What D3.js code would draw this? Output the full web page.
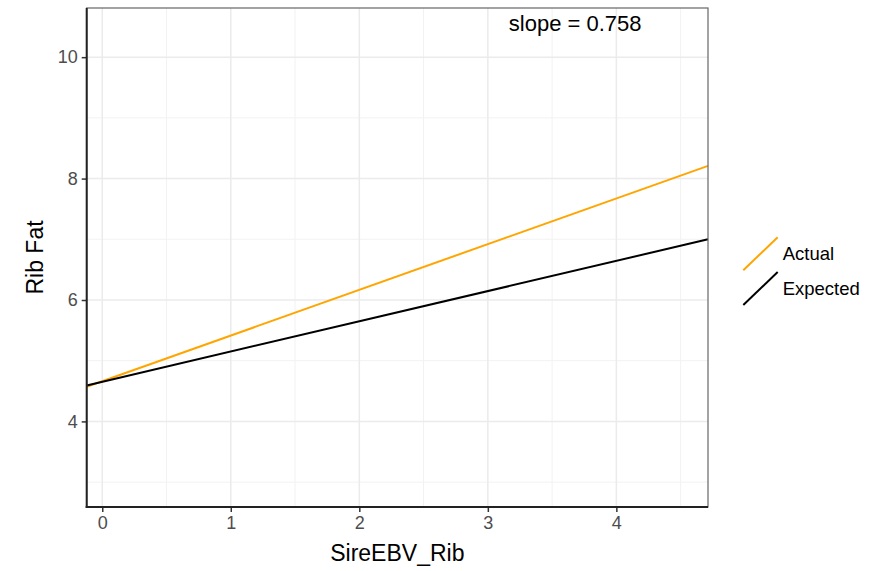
<!DOCTYPE html>
<html>
<head>
<meta charset="utf-8">
<script src="https://cdn.jsdelivr.net/npm/d3@7"></script>
<style>
  body { margin: 0; background: #fff; }
  text { font-family: "Liberation Sans", Arial, sans-serif; }
</style>
</head>
<body>
<script>
// chart data
var xDomain = [-0.121, 4.713];
var yDomain = [2.59, 10.81];
var xEnds = [-0.121, 4.713];
var actual = [4.57, 8.21];
var expected = [4.593, 7.0];
var xTicks = [0, 1, 2, 3, 4];
var xMinor = [0.5, 1.5, 2.5, 3.5, 4.5];
var yTicks = [4, 6, 8, 10];
var yMinor = [3, 5, 7, 9];
var seriesNames = ["Actual", "Expected"];
var seriesColors = ["#FFA500", "#000000"];
var slopeLabel = "slope = 0.758";

window.onload = start;

function start() {
  var width = 883;
  var height = 571;
  // panel edges in pixels
  var pLeft = 86.7, pRight = 708, pTop = 8, pBottom = 507;

  var svg = d3.select("body").append("svg")
      .attr("width", width)
      .attr("height", height);

  var x = d3.scaleLinear().domain(xDomain).range([pLeft, pRight]);
  var y = d3.scaleLinear().domain(yDomain).range([pBottom, pTop]);

  // grid lines
  svg.selectAll(".xminor").data(xMinor).enter().append("line")
      .attr("x1", function(d) { return x(d); }).attr("x2", function(d) { return x(d); })
      .attr("y1", pTop).attr("y2", pBottom)
      .attr("stroke", "#f2f2f2").attr("stroke-width", 1);
  svg.selectAll(".yminor").data(yMinor).enter().append("line")
      .attr("y1", function(d) { return y(d); }).attr("y2", function(d) { return y(d); })
      .attr("x1", pLeft).attr("x2", pRight)
      .attr("stroke", "#f2f2f2").attr("stroke-width", 1);
  svg.selectAll(".xmajor").data(xTicks).enter().append("line")
      .attr("x1", function(d) { return x(d); }).attr("x2", function(d) { return x(d); })
      .attr("y1", pTop).attr("y2", pBottom)
      .attr("stroke", "#ebebeb").attr("stroke-width", 1.5);
  svg.selectAll(".ymajor").data(yTicks).enter().append("line")
      .attr("y1", function(d) { return y(d); }).attr("y2", function(d) { return y(d); })
      .attr("x1", pLeft).attr("x2", pRight)
      .attr("stroke", "#ebebeb").attr("stroke-width", 1.5);

  // the two lines
  var line = d3.line()
      .x(function(d) { return x(d[0]); })
      .y(function(d) { return y(d[1]); });

  var series = [d3.zip(xEnds, actual), d3.zip(xEnds, expected)];
  // expected drawn last so it sits on top
  [0, 1].forEach(function(i) {
    svg.append("path")
      .datum(series[i])
      .attr("d", line)
      .attr("fill", "none")
      .attr("stroke", seriesColors[i])
      .attr("stroke-width", 2);
  });

  // panel border
  svg.append("rect")
      .attr("x", pLeft).attr("y", pTop)
      .attr("width", pRight - pLeft).attr("height", pBottom - pTop)
      .attr("fill", "none").attr("stroke", "#666").attr("stroke-width", 1.2);

  // axes
  var xAxis = svg.append("g")
      .attr("transform", "translate(0," + pBottom + ")")
      .call(d3.axisBottom(x).tickValues(xTicks).tickSize(5).tickPadding(4).tickFormat(d3.format("d")));
  var yAxis = svg.append("g")
      .attr("transform", "translate(" + pLeft + ",0)")
      .call(d3.axisLeft(y).tickValues(yTicks).tickSize(5).tickPadding(4).tickFormat(d3.format("d")));

  [xAxis, yAxis].forEach(function(ax) {
    ax.select(".domain").remove();
    ax.selectAll(".tick line").attr("stroke", "#333").attr("stroke-width", 1.5);
    ax.selectAll(".tick text")
      .attr("fill", "#4d4d4d")
      .style("font-size", "18px")
      .style("font-family", "Liberation Sans, Arial, sans-serif");
  });

  // axis lines (left and bottom drawn heavier)
  svg.append("line")
      .attr("x1", pLeft).attr("x2", pLeft).attr("y1", pTop).attr("y2", pBottom + 1)
      .attr("stroke", "#222").attr("stroke-width", 2);
  svg.append("line")
      .attr("x1", pLeft - 1).attr("x2", pRight).attr("y1", pBottom).attr("y2", pBottom)
      .attr("stroke", "#222").attr("stroke-width", 2);

  // titles
  svg.append("text")
      .attr("x", (pLeft + pRight) / 2).attr("y", 561)
      .attr("text-anchor", "middle")
      .style("font-size", "23px")
      .text("SireEBV_Rib");
  svg.append("text")
      .attr("transform", "translate(43," + ((pTop + pBottom) / 2) + ") rotate(-90)")
      .attr("text-anchor", "middle")
      .style("font-size", "23px")
      .text("Rib Fat");

  // annotation
  svg.append("text")
      .attr("x", x(3.68)).attr("y", y(10.55))
      .attr("dy", "0.35em")
      .attr("text-anchor", "middle")
      .style("font-size", "22px")
      .text(slopeLabel);

  // legend
  var legendY = [253.7, 288.5];
  seriesNames.forEach(function(name, i) {
    var cy = legendY[i];
    svg.append("line")
      .attr("x1", 743.3).attr("y1", cy + 16.5)
      .attr("x2", 777.7).attr("y2", cy - 16.5)
      .attr("stroke", seriesColors[i])
      .attr("stroke-width", 2);
    svg.append("text")
      .attr("x", 782.7).attr("y", cy)
      .attr("dy", "0.36em")
      .style("font-size", "18.5px")
      .text(name);
  });
}
</script>
</body>
</html>
